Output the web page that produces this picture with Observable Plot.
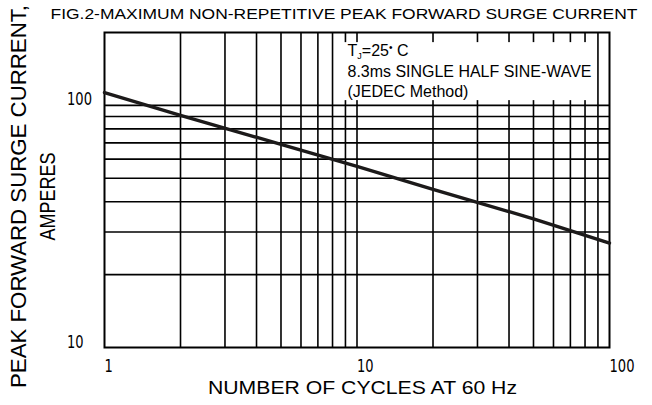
<!DOCTYPE html>
<html><head><meta charset="utf-8">
<script src="https://cdn.jsdelivr.net/npm/d3@7"></script>
<script src="https://cdn.jsdelivr.net/npm/@observablehq/plot@0.6"></script>
<style>body{margin:0;background:#fff} svg{display:block}</style>
</head><body><div id="chart"></div>
<script>
// ---- data ----
const cycles = [1, 2, 5, 10, 20, 50, 100];
const surgeAmps = [113, 91, 69, 56, 45, 34, 27];
const xGridValues = [2, 3, 4, 5, 6, 7, 8, 9, 10, 20, 30, 40, 50, 60, 70, 80, 90];
const yGridValues = [20, 30, 40, 50, 60, 70, 80, 90, 100];
const xTickLabels = [1, 10, 100];
const yTickLabels = [10, 100];
const titleText = "FIG.2-MAXIMUM NON-REPETITIVE PEAK FORWARD SURGE CURRENT";
const xLabelText = "NUMBER OF CYCLES AT 60 Hz";
const yLabelLine1 = "PEAK FORWARD SURGE CURRENT,";
const yLabelLine2 = "AMPERES";
const noteLine1 = "TJ=25• C";
const noteLine2 = "8.3ms SINGLE HALF SINE-WAVE";
const noteLine3 = "(JEDEC Method)";

const data = cycles.map((c, i) => ({cycles: c, amps: surgeAmps[i]}));

const SANS = "'Liberation Sans', Arial, Helvetica, sans-serif";
const NUM = "'DejaVu Sans', sans-serif";

const plot = Plot.plot({
  width: 652,
  height: 405,
  marginLeft: 104,
  marginRight: 43,
  marginTop: 32,
  marginBottom: 58,
  style: {background: "#fff", color: "#000"},
  x: {type: "log", domain: [1, 100], axis: null},
  y: {type: "log", domain: [10, 200], axis: null},
  marks: [
    Plot.ruleX(xGridValues, {x: d => d, stroke: "#000", strokeWidth: 1.6}),
    Plot.ruleY(yGridValues, {y: d => d, stroke: "#000", strokeWidth: 1.6}),
    // note box text
    Plot.text([noteLine1], {frameAnchor: "top-left", textAnchor: "start", lineAnchor: "middle", dx: 243, dy: 18.5, fontSize: 16, fontFamily: SANS, fill: "#000"}),
    Plot.text([noteLine2], {frameAnchor: "top-left", textAnchor: "start", lineAnchor: "middle", dx: 243, dy: 39, fontSize: 16, fontFamily: SANS, fill: "#000"}),
    Plot.text([noteLine3], {frameAnchor: "top-left", textAnchor: "start", lineAnchor: "middle", dx: 243, dy: 59.5, fontSize: 16, fontFamily: SANS, fill: "#000"}),
    Plot.frame({stroke: "#000", strokeWidth: 2}),
    Plot.line(data, {x: "cycles", y: "amps", stroke: "#1c1a1a", strokeWidth: 3.4}),
    // tick labels
    Plot.text(xTickLabels, {x: d => d, text: d => String(d), frameAnchor: "bottom", lineAnchor: "top", textAnchor: "start", dy: 12, fontSize: 17.5, fontFamily: NUM, fill: "#000"}),
    Plot.text(yTickLabels, {y: d => d, text: d => String(d), frameAnchor: "left", textAnchor: "start", lineAnchor: "middle", dx: -37.5, dy: -5.5, fontSize: 17.5, fontFamily: NUM, fill: "#000"}),
    // title and axis labels
    Plot.text([titleText], {frameAnchor: "top", textAnchor: "middle", lineAnchor: "middle", dx: -13, dy: -18, fontSize: 15, fontFamily: SANS, fill: "#000"}),
    Plot.text([xLabelText], {frameAnchor: "bottom", textAnchor: "middle", lineAnchor: "middle", dx: 5.5, dy: 41, fontSize: 17.5, fontFamily: SANS, fill: "#000"}),
    Plot.text([yLabelLine1], {frameAnchor: "left", textAnchor: "middle", lineAnchor: "middle", rotate: -90, dx: -85.5, dy: 6.5, fontSize: 22, fontFamily: SANS, fill: "#000"}),
    Plot.text([yLabelLine2], {frameAnchor: "left", textAnchor: "middle", lineAnchor: "middle", rotate: -90, dx: -57, dy: 6.5, fontSize: 22, fontFamily: SANS, fill: "#000"})
  ]
});

document.getElementById("chart").append(plot);

const texts = d3.select(plot).selectAll("text");
function fit(str, len) {
  texts.filter(function() { return this.textContent === str; })
    .attr("textLength", len).attr("lengthAdjust", "spacingAndGlyphs");
}
fit(titleText, 587);
fit(xLabelText, 309);
fit(yLabelLine1, 383);
fit(yLabelLine2, 88);
fit(noteLine2, 244);
fit("1", 8.3);
fit("10", 16.6);
fit("100", 25);

// subscript / superscript in the note's first line
let noteG = null;
texts.filter(function() { return this.textContent === noteLine1; }).each(function() {
  noteG = this.parentNode;
  const t = d3.select(this);
  t.text(null);
  t.append("tspan").text("T");
  t.append("tspan").attr("font-size", 9).attr("dy", 3).text("J");
  t.append("tspan").attr("dy", -3).text("=25");
  t.append("tspan").attr("font-size", 10).attr("dy", -5).text("•");
  t.append("tspan").attr("dy", 5).text(" C");
});

// white box behind the note, sized from the note text itself
const noteNodes = texts.filter(function() {
  return this.parentNode === noteG || this.textContent === noteLine2 || this.textContent === noteLine3;
}).nodes();
const sr = plot.getBoundingClientRect();
let x0 = Infinity, y0 = Infinity, x1 = -Infinity, y1 = -Infinity;
for (const n of noteNodes) {
  const r = n.getBoundingClientRect();
  x0 = Math.min(x0, r.left - sr.left); y0 = Math.min(y0, r.top - sr.top);
  x1 = Math.max(x1, r.right - sr.left); y1 = Math.max(y1, r.bottom - sr.top);
}
const rect = document.createElementNS("http://www.w3.org/2000/svg", "rect");
rect.setAttribute("x", x0 - 4);
rect.setAttribute("y", Math.max(y0, 41));
rect.setAttribute("width", (x1 - x0) + 7);
rect.setAttribute("height", Math.min(y1, 103) - Math.max(y0, 41));
rect.setAttribute("fill", "#fff");
plot.insertBefore(rect, noteG);
</script>
</body></html>
